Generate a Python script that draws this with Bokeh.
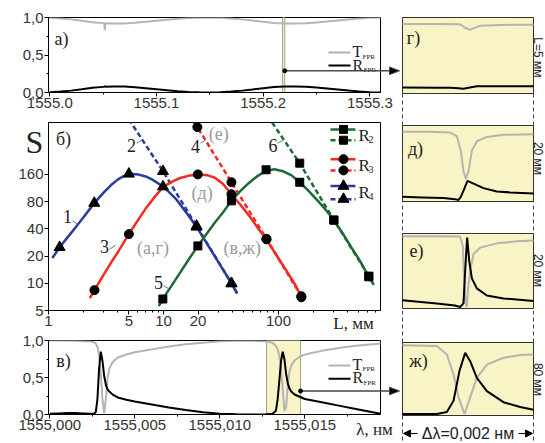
import math
from bokeh.plotting import figure
from bokeh.models import Range1d, FixedTicker, CustomJSTickFormatter, Label, Arrow, NormalHead
from bokeh.core.properties import value
from bokeh.layouts import row, column
from bokeh.embed import file_html
from bokeh.resources import INLINE

SANS = "Liberation Sans"
SERIF = "Liberation Serif"
GRAY = "#b4b4b4"
YEL = "#f8f4c6"
BLUE = "#2b3c9b"
RED = "#f42a22"
GREEN = "#1d6b35"

# ---------------- data ----------------
# а) wide spectrum, L = 5 mm
a_lam = [1555.000, 1555.010, 1555.020, 1555.030, 1555.040, 1555.050, 1555.0510, 1555.0515, 1555.0520,
         1555.060, 1555.070, 1555.080, 1555.090, 1555.100, 1555.110, 1555.120, 1555.130, 1555.140,
         1555.148, 1555.160, 1555.170, 1555.180, 1555.190, 1555.200, 1555.210, 1555.220, 1555.230,
         1555.240, 1555.250, 1555.260, 1555.270, 1555.280, 1555.290, 1555.300, 1555.310]
a_R = [0.003, 0.012, 0.025, 0.043, 0.062, 0.075, 0.076, 0.088, 0.077, 0.081, 0.079, 0.070, 0.057, 0.043,
       0.029, 0.017, 0.008, 0.002, 0.000, 0.004, 0.012, 0.025, 0.041, 0.058, 0.072, 0.080, 0.081, 0.077,
       0.067, 0.054, 0.040, 0.026, 0.014, 0.005, 0.000]
a_T = [0.997, 0.988, 0.975, 0.957, 0.938, 0.925, 0.924, 0.830, 0.923, 0.919, 0.921, 0.930, 0.943, 0.957,
       0.971, 0.983, 0.992, 0.998, 1.000, 0.996, 0.988, 0.975, 0.959, 0.942, 0.928, 0.920, 0.919, 0.923,
       0.933, 0.946, 0.960, 0.974, 0.986, 0.995, 1.000]
a_band = [1555.2182, 1555.2202]
a_xticks = [1555.0, 1555.1, 1555.2, 1555.3]
a_xminor = [1555.05, 1555.15, 1555.25]
unit_ticks = [0.0, 0.5, 1.0]
unit_minor = [0.25, 0.75]

# б) S versus L
b_xticks = [1, 5, 10, 20, 100]
b_xminor = [2, 3, 4, 6, 7, 8, 9, 30, 40, 50, 60, 70, 80, 90, 200, 300, 400, 500, 600, 700]
b_yticks = [5, 10, 20, 40, 80, 160]

R4_L_line = [1.08, 1.25, 1.6, 2.0, 2.5, 3.0, 3.5, 4.0, 4.5, 5.0, 5.5, 6.0, 7.0, 8.0, 10.0, 13.0, 16.0,
             19.4, 25.0, 32.0, 39.0, 43.7]
R4_S_line = [19, 25, 37, 53, 77, 100, 122, 140, 153, 160, 162, 160, 152, 140, 117, 84, 59, 42, 25, 15, 10, 7.7]
R4_L_mk = [1.25, 2.5, 5.0, 9.9, 19.4, 39.0]
R4_S_mk = [25, 77, 162, 117, 42, 9.9]
R4d_L = [5.0, 9.9, 19.4, 39.0, 43.7]
R4d_S = [650, 173, 43, 10, 7.8]
R4d_L_mk = [9.9, 19.4, 39.0]
R4d_S_mk = [173, 43, 10]

R3_L_line = [2.29, 2.51, 3.0, 3.5, 4.0, 5.0, 6.0, 7.0, 8.5, 10.0, 12.0, 14.0, 17.0, 20.0, 24.0, 28.0, 33.0,
             39.0, 47.0, 56.0, 66.0, 78.6, 95.0, 115.0, 140.0, 158.0, 165.0]
R3_S_line = [6.85, 8.4, 12.3, 16.9, 22, 35, 50, 67, 92, 117, 134, 146, 156, 160, 157, 147, 125,
             96.5, 73, 55, 41, 30.6, 20.9, 14.3, 9.6, 7.1, 6.4]
R3_L_mk = [2.51, 5.0, 19.9, 39.0, 78.6, 158.0]
R3_S_mk = [8.4, 35, 160, 96.5, 30.6, 7.0]
R3d_L = [18.3, 19.7, 39.0, 78.6, 158.0, 165.0]
R3d_S = [600, 534, 131, 31, 7.2, 6.5]
R3d_L_mk = [19.7, 39.0, 78.6, 158.0]
R3d_S_mk = [534, 131, 31, 7.2]

R2_L_line = [9.1, 9.87, 12, 14, 16.5, 19.9, 24, 28, 33, 39, 46, 55, 65, 78, 92, 110, 130, 153, 180, 215,
             255, 303, 360, 430, 510, 610, 675]
R2_S_line = [5.6, 6.7, 9.8, 13.2, 18.2, 25.9, 36, 47, 61, 81.6, 103, 128, 152, 175, 182, 173, 156, 131,
             107, 84, 66, 50, 36, 25, 17.8, 11.8, 9.6]
R2_L_mk = [9.87, 19.9, 39.0, 78.0, 153, 303, 610]
R2_S_mk = [6.7, 25.9, 81.6, 180, 131, 50, 11.8]
R2d_L = [88, 153, 303, 610, 675]
R2d_S = [600, 213, 50, 12, 9.7]
R2d_L_mk = [153, 303, 610]
R2d_S_mk = [213, 50, 12]

# в) narrow spectrum, L = 80 mm
c_lam = [1555.0000, 1555.0005, 1555.0010, 1555.0015, 1555.0020, 1555.0024, 1555.0026, 1555.0027,
         1555.0028, 1555.0029, 1555.0030, 1555.0031, 1555.0032, 1555.0033, 1555.0034, 1555.0035,
         1555.0037, 1555.0040, 1555.0045, 1555.0050, 1555.0060, 1555.0070, 1555.0080, 1555.0090,
         1555.0100, 1555.0110, 1555.0120, 1555.0127, 1555.0131, 1555.0133, 1555.0134, 1555.0135,
         1555.0136, 1555.0137, 1555.0138, 1555.0139, 1555.0140, 1555.0141, 1555.0142, 1555.0144,
         1555.0147, 1555.0150, 1555.0160, 1555.0170, 1555.0180, 1555.0190, 1555.0195]
c_T = [1.00, 1.00, 1.00, 0.995, 0.99, 0.985, 0.975, 0.96, 0.92, 0.80, 0.55, 0.20, 0.02, 0.22, 0.50, 0.62,
       0.71, 0.77, 0.81, 0.84, 0.88, 0.92, 0.95, 0.97, 0.99, 0.995, 0.995, 0.99, 0.97, 0.93, 0.88, 0.80,
       0.62, 0.35, 0.05, 0.10, 0.40, 0.58, 0.66, 0.73, 0.78, 0.81, 0.86, 0.90, 0.93, 0.95, 0.96]
c_R = [0.010, 0.015, 0.020, 0.020, 0.015, 0.010, 0.010, 0.030, 0.20, 0.62, 0.85, 0.72, 0.52, 0.40, 0.34,
       0.31, 0.27, 0.23, 0.20, 0.175, 0.135, 0.095, 0.06, 0.03, 0.01, 0.002, 0.000, 0.002, 0.010, 0.05,
       0.20, 0.45, 0.72, 0.85, 0.75, 0.55, 0.42, 0.35, 0.31, 0.27, 0.24, 0.21, 0.165, 0.12, 0.075, 0.03, 0.01]
c_band = [1555.01275, 1555.01475]
c_xticks = [1555.000, 1555.005, 1555.010, 1555.015]
c_xminor = [1555.0025, 1555.0075, 1555.0125, 1555.0175]

# г) - ж) zoomed resonances, offset within a 0.002 nm window (units of 0.001 nm)
g_u_T = [0, 0.5, 0.88, 0.95, 1.03, 1.10, 1.19, 1.5, 2.0]
g_T = [0.938, 0.938, 0.935, 0.89, 0.856, 0.885, 0.915, 0.925, 0.929]
g_u_R = [0, 0.5, 0.73, 0.855, 0.93, 1.03, 1.135, 1.5, 2.0]
g_R = [0.062, 0.060, 0.058, 0.052, 0.045, 0.062, 0.079, 0.080, 0.080]

d_u_T = [0, 0.4, 0.728, 0.83, 0.89, 0.931, 0.967, 1.008, 1.059, 1.135, 1.288, 1.542, 2.0]
d_T = [0.94, 0.94, 0.93, 0.88, 0.68, 0.40, 0.29, 0.40, 0.68, 0.81, 0.87, 0.90, 0.906]
d_u_R = [0, 0.3, 0.626, 0.80, 0.855, 0.891, 0.941, 0.992, 1.084, 1.237, 1.44, 1.644, 2.0]
d_R = [0.044, 0.036, 0.026, 0.012, 0.0, 0.044, 0.15, 0.264, 0.227, 0.164, 0.117, 0.105, 0.09]

e_u_T = [0, 0.5, 0.88, 0.921, 0.94, 0.965, 0.982, 1.0, 1.033, 1.084, 1.186, 1.44, 1.746, 2.0]
e_T = [0.99, 0.99, 0.985, 0.85, 0.40, 0.05, 0.0, 0.25, 0.51, 0.74, 0.83, 0.89, 0.92, 0.93]
e_u_R = [0, 0.524, 0.80, 0.88, 0.931, 0.957, 0.987, 1.018, 1.059, 1.135, 1.288, 1.542, 2.0]
e_R = [0.094, 0.05, 0.02, 0.0, 0.05, 0.51, 0.97, 0.65, 0.40, 0.26, 0.16, 0.12, 0.085]

zh_u_T = [0, 0.524, 0.677, 0.779, 0.855, 0.947, 1.033, 1.135, 1.288, 1.542, 1.796, 2.0]
zh_T = [0.99, 0.98, 0.856, 0.57, 0.24, 0.0, 0.24, 0.52, 0.71, 0.81, 0.85, 0.856]
zh_u_R = [0, 0.524, 0.677, 0.779, 0.87, 0.957, 1.033, 1.135, 1.288, 1.542, 1.796, 2.0]
zh_R = [0.0, 0.0, 0.03, 0.19, 0.62, 0.88, 0.76, 0.52, 0.33, 0.17, 0.10, 0.06]


# ---------------- layout helpers (reference pixel -> data) ----------------
def aX(px): return 1555.0 + (px - 49.3) / 1067.0
def aY(py): return (92.0 - py) / 75.0
def cX(px): return 1555.0 + (px - 49.3) / 17000.0
def cY(py): return (414.3 - py) / 74.3
def bX(px): return 10 ** ((px - 48.0) / 115.0)
def bY(py): return 5.0 * 2 ** ((313.3 - py) / 27.7)
def U(px): return (px - 402.0) * 2.0 / 131.0


def style(p):
    for ax in p.axis:
        ax.axis_line_color = "black"
        ax.major_tick_in = 0
        ax.major_tick_out = 4
        ax.minor_tick_in = 0
        ax.minor_tick_out = 2
        ax.major_tick_line_color = "black"
        ax.minor_tick_line_color = "black"
        ax.major_label_text_font = SANS
        ax.major_label_text_font_size = "15px"
        ax.major_label_text_color = "#333333"
        ax.major_label_standoff = 1
    p.grid.visible = False
    p.outline_line_color = "black"
    p.outline_line_alpha = 1.0
    p.background_fill_color = "white"
    p.border_fill_color = "white"


def label(p, x, y, text, size, font=SERIF, color="#222222", align="center",
          baseline="middle", angle=0.0, yr="default"):
    p.add_layout(Label(x=x, y=y, text=text, text_font=font, text_font_size=f"{size}px",
                       text_color=color, text_align=align, text_baseline=baseline,
                       angle=angle, y_range_name=yr))


def otext(p, x, y, text, size, font=SERIF, color="#222222", align="center"):
    # text glyph on the overlay level, so that it may sit outside the frame
    p.text(x=[x], y=[y], text=[text], text_font=value(font), text_font_size=value(f"{size}px"),
           text_color=color, text_align=align, text_baseline="middle", level="overlay")


def oarrow(p, fx, fy, x0, y0, base_px, tip_px, y_px):
    # pointer from a dot (x0, y0) to the panel on the right; one polygon so it is not culled
    xs = [x0, fx(base_px), fx(base_px), fx(tip_px), fx(base_px), fx(base_px)]
    ys = [y0, y0, fy(y_px - 3.8), y0, fy(y_px + 3.8), y0]
    p.patch(xs, ys, fill_color="black", line_color="#444444", line_width=1, level="overlay")
    p.scatter([x0], [y0], size=4, color="black", level="overlay")


def mk_fig(height, xr, yr, top, bottom, **kw):
    return figure(width=400, height=height, x_range=xr, y_range=yr, output_backend="svg",
                  toolbar_location=None, title=None, min_border_left=48, min_border_right=20,
                  min_border_top=top, min_border_bottom=bottom, **kw)


comma1 = CustomJSTickFormatter(code="return tick.toFixed(1).replace('.', ',');")

# ---------------- panel а ----------------
pA = mk_fig(115, Range1d(aX(48), aX(380)), Range1d(0, 1), 17, 23)
style(pA)
pA.xaxis.ticker = FixedTicker(ticks=a_xticks, minor_ticks=a_xminor)
pA.xaxis.formatter = CustomJSTickFormatter(code="return tick.toFixed(1);")
pA.yaxis.ticker = FixedTicker(ticks=unit_ticks, minor_ticks=unit_minor)
pA.yaxis.formatter = comma1
pA.quad(left=[a_band[0]], right=[a_band[1]], bottom=[0], top=[1], fill_color=YEL,
        line_color="#a0a090", line_width=1)
pA.line(a_lam, a_T, color=GRAY, line_width=2)
pA.line(a_lam, a_R, color="black", line_width=2)
oarrow(pA, aX, aY, a_band[1], aY(70.3), 389, 399, 70.3)
label(pA, aX(61), aY(38), "а)", 18)
pA.line([aX(328), aX(350)], [aY(52), aY(52)], color=GRAY, line_width=2)
pA.line([aX(328), aX(350)], [aY(65), aY(65)], color="black", line_width=2)
label(pA, aX(352), aY(51), "T", 16, align="left")
label(pA, aX(362), aY(56), "FPR", 7, align="left")
label(pA, aX(352), aY(64.5), "R", 16, align="left")
label(pA, aX(363), aY(69.5), "FPR", 7, align="left")

# ---------------- panel б ----------------
pB = mk_fig(217, Range1d(1, 771), Range1d(5, 600), 7, 22, x_axis_type="log", y_axis_type="log")
style(pB)
pB.xaxis.ticker = FixedTicker(ticks=b_xticks, minor_ticks=b_xminor)
pB.xaxis.formatter = CustomJSTickFormatter(code="return String(Math.round(tick));")
pB.yaxis.ticker = FixedTicker(ticks=b_yticks, minor_ticks=[])
pB.yaxis.formatter = CustomJSTickFormatter(code="return String(Math.round(tick));")

series = [
    (R4_L_line, R4_S_line, R4_L_mk, R4_S_mk, R4d_L, R4d_S, R4d_L_mk, R4d_S_mk, BLUE, "triangle", 11),
    (R3_L_line, R3_S_line, R3_L_mk, R3_S_mk, R3d_L, R3d_S, R3d_L_mk, R3d_S_mk, RED, "circle", 9),
    (R2_L_line, R2_S_line, R2_L_mk, R2_S_mk, R2d_L, R2d_S, R2d_L_mk, R2d_S_mk, GREEN, "square", 8),
]
for Ll, Sl, Lm, Sm, Ld, Sd, Ldm, Sdm, col, mark, sz in series:
    pB.line(Ld, Sd, color=col, line_width=2.5, line_dash="5 3")
    pB.line(Ll, Sl, color=col, line_width=2.5)
for Ll, Sl, Lm, Sm, Ld, Sd, Ldm, Sdm, col, mark, sz in series:
    pB.scatter(Lm, Sm, marker=mark, size=sz, color="black")
    pB.scatter(Ldm, Sdm, marker=mark, size=sz, color="black")

# legend of б
leg_rows = [(129, 140, 135, 139.5, "2", GREEN, "square", 8),
            (159.3, 170.7, 165.5, 169.5, "3", RED, "circle", 9),
            (186.7, 200, 193.5, 197.5, "4", BLUE, "triangle", 11)]
for ys, yd, yt, ysub, sub, col, mark, sz in leg_rows:
    pB.line([bX(330), bX(355)], [bY(ys), bY(ys)], color=col, line_width=2.5)
    pB.line([bX(330), bX(355)], [bY(yd), bY(yd)], color=col, line_width=2.5, line_dash="5 3")
    pB.scatter([bX(343), bX(343)], [bY(ys), bY(yd)], marker=mark, size=sz, color="black")
    label(pB, bX(358), bY(yt), "R", 17, align="left")
    label(pB, bX(368), bY(ysub), sub, 10, align="left")

otext(pB, bX(34), bY(142), "S", 32)
otext(pB, bX(353), bY(327), "L, мм", 17)
label(pB, bX(63), bY(139), "б)", 18)
for txt, px, py in [("1", 67, 218), ("2", 131, 145), ("3", 104, 248), ("4", 195, 146.7),
                    ("5", 158, 285), ("6", 272.5, 145.8)]:
    label(pB, bX(px), bY(py), txt, 18)
leaders = [((72, 222), (78, 226)), ((136, 143), (141, 140)), ((109, 251), (115, 247)),
           ((200, 143), (205, 140)), ((163, 288), (168, 291)), ((277, 143), (283, 140))]
for (x0, y0), (x1, y1) in leaders:
    pB.line([bX(x0), bX(x1)], [bY(y0), bY(y1)], color="#777777", line_width=1)
for txt, px, py in [("(а,г)", 152.5, 250), ("(д)", 201.7, 193.3), ("(е)", 218.3, 133.3),
                    ("(в,ж)", 241.7, 250)]:
    label(pB, bX(px), bY(py), txt, 18, color="#9a9a9a")

# ---------------- panel в ----------------
pC = mk_fig(111, Range1d(cX(48), cX(380)), Range1d(0, 1), 8, 29)
style(pC)
pC.xaxis.ticker = FixedTicker(ticks=c_xticks, minor_ticks=c_xminor)
pC.xaxis.formatter = CustomJSTickFormatter(code="return tick.toFixed(3).replace('.', ',');")
pC.yaxis.ticker = FixedTicker(ticks=unit_ticks, minor_ticks=unit_minor)
pC.yaxis.formatter = comma1
pC.quad(left=[c_band[0]], right=[c_band[1]], bottom=[0], top=[1], fill_color=YEL,
        line_color="#a0a090", line_width=1)
pC.line(c_lam, c_T, color=GRAY, line_width=2)
pC.line(c_lam, c_R, color="black", line_width=2)
oarrow(pC, cX, cY, c_band[1], cY(390.7), 389, 399, 390.7)
label(pC, cX(63), cY(361), "в)", 18)
pC.line([cX(328), cX(350)], [cY(365), cY(365)], color=GRAY, line_width=2)
pC.line([cX(328), cX(350)], [cY(378.3), cY(378.3)], color="black", line_width=2)
label(pC, cX(352), cY(364), "T", 16, align="left")
label(pC, cX(362), cY(369), "FPR", 7, align="left")
label(pC, cX(352), cY(377.5), "R", 16, align="left")
label(pC, cX(363), cY(382.5), "FPR", 7, align="left")
otext(pC, cX(374), cY(429), "λ, нм", 17)

# ---------------- right column г - ж ----------------
pR = figure(width=145, height=443, x_range=Range1d(U(400), U(545)), y_range=Range1d(443, 0),
            output_backend="svg", toolbar_location=None, title=None, min_border=0,
            x_axis_location=None, y_axis_location=None)
pR.min_border_left = 0
pR.min_border_right = 0
pR.min_border_top = 0
pR.min_border_bottom = 0
pR.outline_line_color = None
pR.grid.visible = False
pR.background_fill_color = "white"
pR.border_fill_color = "white"

boxes = {"g": (17, 93), "d": (125, 201), "e": (233, 308), "zh": (342, 415)}
extra = {}
for k, (t, b) in boxes.items():
    v0 = b - 1.5
    sc = v0 - (t + 2.0)
    extra[k] = Range1d((v0 - 443) / sc, (v0 - 0) / sc)
pR.extra_y_ranges = extra

pR.segment(x0=[0, 2], y0=[93, 93], x1=[0, 2], y1=[441, 441], line_color="#444444",
           line_width=1, line_dash="4 3")
for k, (t, b) in boxes.items():
    pR.quad(left=[0], right=[2], top=[t], bottom=[b], fill_color=YEL, line_color="#333333",
            line_width=1)

for k, uT, T, uR, R in [("g", g_u_T, g_T, g_u_R, g_R), ("d", d_u_T, d_T, d_u_R, d_R),
                        ("e", e_u_T, e_T, e_u_R, e_R), ("zh", zh_u_T, zh_T, zh_u_R, zh_R)]:
    pR.line(uT, T, color=GRAY, line_width=2, y_range_name=k)
    pR.line(uR, R, color="black", line_width=2, y_range_name=k)

for txt, px, py in [("г)", 413, 37), ("д)", 415, 148), ("е)", 416, 250), ("ж)", 418, 360)]:
    label(pR, U(px), py, txt, 18)
label(pR, U(537), 77, "L=5 мм", 12, font=SANS, align="right", angle=-math.pi / 2)
for txt, py in [("20 мм", 158), ("20 мм", 270), ("80 мм", 379)]:
    label(pR, U(537), py, txt, 12, font=SANS, angle=-math.pi / 2)

label(pR, U(467.5), 433, "Δλ=0,002 нм", 16, font=SANS)
pR.add_layout(Arrow(end=NormalHead(size=7, fill_color="black", line_color="black"),
                    x_start=U(417), y_start=433, x_end=U(403), y_end=433, line_color="black", line_width=1))
pR.add_layout(Arrow(end=NormalHead(size=7, fill_color="black", line_color="black"),
                    x_start=U(518), y_start=433, x_end=U(532), y_end=433, line_color="black", line_width=1))

layout = row(column(pA, pB, pC), pR)
open("out.html", "w").write(file_html(layout, INLINE))
